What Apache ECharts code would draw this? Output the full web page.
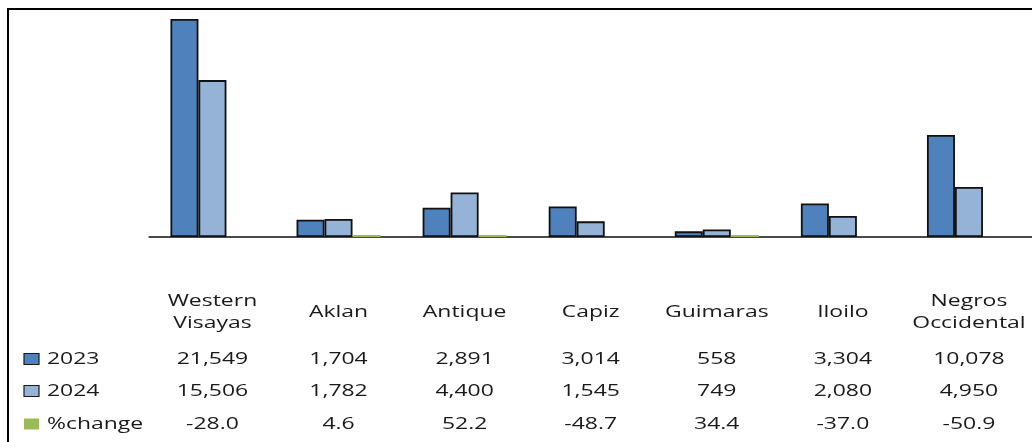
<!DOCTYPE html>
<html><head><meta charset="utf-8">
<script src="https://cdn.jsdelivr.net/npm/echarts@6/dist/echarts.min.js"></script>
<style>html,body{margin:0;padding:0;background:#fff}#c{width:1032px;height:442px}</style>
</head><body><div id="c"></div>
<script>
const categories = ['Western\nVisayas','Aklan','Antique','Capiz','Guimaras','Iloilo','Negros\nOccidental'];
const seriesNames = ['2023','2024','%change'];
const values2023 = [21549,1704,2891,3014,558,3304,10078];
const values2024 = [15506,1782,4400,1545,749,2080,4950];
const pctChange = [-28.0,4.6,52.2,-48.7,34.4,-37.0,-50.9];
const colors = ['#4F81BD','#95B3D7','#9BBB59'];

const chart = echarts.init(document.getElementById('c'), null, {renderer:'canvas'});
const FONT = '"Open Sans", "DejaVu Sans", sans-serif';
const option = {
  animation:false,
  backgroundColor:'#fff',
  grid:{left:149.4, width:883, top:14.4, height:222.6, containLabel:false},
  xAxis:{type:'category', data:categories,
    axisLine:{lineStyle:{color:'#4a4a4a', width:2}}, axisTick:{show:false}, axisLabel:{show:false}},
  yAxis:{type:'value', min:0, max:22000, show:false, splitLine:{show:false}},
  series:[
    {name:seriesNames[0], type:'bar', data:values2023, barWidth:28, barGap:'0%',
     itemStyle:{color:colors[0], borderColor:'#111', borderWidth:1.8}},
    {name:seriesNames[1], type:'bar', data:values2024, barWidth:28, barGap:'0%',
     itemStyle:{color:colors[1], borderColor:'#111', borderWidth:1.8}},
    {name:seriesNames[2], type:'bar', data:pctChange, barWidth:28, barGap:'0%', barMinHeight:2, clip:true,
     itemStyle:{color:colors[2]}}
  ]
};
chart.setOption(option);

const SX = 1.35;
function txt(x, y, s, align){
  return {type:'text', x:x, y:y, scaleX:SX, silent:true, z:10,
    style:{text:s, x:0, y:0, fill:'#1a1a1a', fontSize:17, fontFamily:FONT,
      align:align||'center', verticalAlign:'middle', lineHeight:22}};
}
const rowY = [359, 391, 424];
const rows = [
  values2023.map(v=>v.toLocaleString('en-US')),
  values2024.map(v=>v.toLocaleString('en-US')),
  pctChange.map(v=>v.toFixed(1))
];
const gfx = [];
// frame
gfx.push({type:'line', shape:{x1:7, y1:9, x2:1032, y2:9}, style:{stroke:'#000', lineWidth:2}, silent:true});
gfx.push({type:'line', shape:{x1:8, y1:8, x2:8, y2:442}, style:{stroke:'#000', lineWidth:2}, silent:true});
categories.forEach((c,i)=>{
  const px = chart.convertToPixel({xAxisIndex:0}, i);
  gfx.push(txt(px, 312, c));
  rows.forEach((r,k)=>gfx.push(txt(px, rowY[k], r[i])));
});
seriesNames.forEach((n,k)=>{
  gfx.push({type:'rect', shape:{x:24, y:rowY[k]-5.5, width:15, height:11}, silent:true,
    style:{fill:colors[k], stroke: k<2 ? '#1a1a1a' : null, lineWidth: k<2 ? 1.2 : 0}});
  gfx.push(txt(47, rowY[k], n, 'left'));
});
chart.setOption({graphic:gfx});
</script></body></html>
